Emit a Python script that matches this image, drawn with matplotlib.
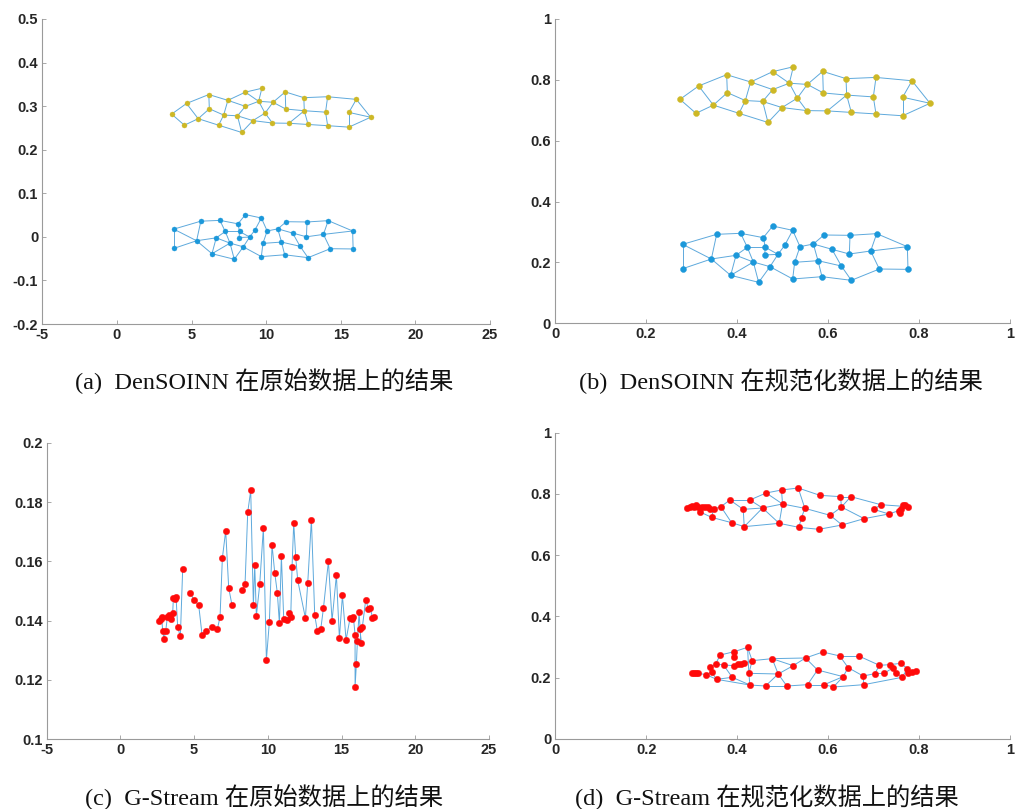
import numpy as np
import matplotlib
matplotlib.use("Agg")
import matplotlib.pyplot as plt
from matplotlib.collections import LineCollection

plt.rcParams['axes.unicode_minus'] = False

# ---------------- DenSOINN nodes (normalized coordinates) ----------------
yellow_x = [0.2747, 0.3099, 0.3158, 0.3480, 0.3773, 0.3788, 0.4044, 0.4183, 0.4300, 0.4564,
            0.4681, 0.4784, 0.4784, 0.4989, 0.5150, 0.5238, 0.5326, 0.5531, 0.5546, 0.5883,
            0.5897, 0.5985, 0.6396, 0.6410, 0.6513, 0.7055, 0.6996, 0.7055, 0.7846, 0.7641,
            0.7641, 0.8242]
yellow_y = [0.736, 0.690, 0.780, 0.717, 0.817, 0.758, 0.690, 0.732, 0.793, 0.729,
            0.660, 0.827, 0.768, 0.709, 0.789, 0.843, 0.740, 0.699, 0.785, 0.828,
            0.757, 0.698, 0.804, 0.750, 0.693, 0.808, 0.744, 0.688, 0.797, 0.743,
            0.682, 0.723]
yellow_edges = [(1, 2), (1, 3), (2, 4), (3, 4), (3, 5), (4, 6), (5, 6), (5, 9), (6, 8), (4, 7),
                (7, 8), (8, 9), (8, 10), (9, 13), (9, 12), (12, 16), (13, 15), (13, 10), (10, 11),
                (7, 11), (11, 14), (10, 14), (15, 16), (15, 17), (12, 15), (14, 17), (17, 18),
                (14, 18), (15, 19), (17, 19), (19, 20), (19, 21), (20, 21), (20, 23), (21, 24),
                (23, 24), (18, 22), (22, 24), (22, 25), (24, 25), (23, 26), (24, 27), (26, 27),
                (25, 28), (27, 28), (26, 29), (28, 31), (29, 30), (29, 32), (30, 32), (31, 32),
                (30, 31)]

blue_x = [0.2806, 0.2806, 0.3436, 0.3553, 0.3861, 0.3978, 0.4080, 0.4227, 0.4359, 0.4476,
          0.4579, 0.4623, 0.4608, 0.4725, 0.4784, 0.4901, 0.5048, 0.5224, 0.5385, 0.5267,
          0.5224, 0.5678, 0.5780, 0.5912, 0.6088, 0.5868, 0.6293, 0.6469, 0.6484, 0.6513,
          0.6938, 0.7070, 0.7128, 0.7744, 0.7758]
blue_y = [0.2595, 0.1795, 0.2113, 0.2924, 0.1576, 0.2234, 0.2957, 0.2497, 0.2014, 0.1346,
          0.2814, 0.2497, 0.2245, 0.1861, 0.3197, 0.2266, 0.2562, 0.3055, 0.2518, 0.2004,
          0.1456, 0.2606, 0.2058, 0.2902, 0.2431, 0.1532, 0.1883, 0.2277, 0.2891, 0.1412,
          0.2376, 0.2946, 0.1784, 0.2518, 0.1773]
blue_edges = [(1, 2), (1, 4), (1, 3), (2, 3), (3, 4), (3, 6), (3, 5), (4, 7), (7, 11), (7, 8),
              (6, 8), (6, 5), (5, 9), (5, 10), (9, 10), (8, 12), (11, 12), (11, 15), (12, 13),
              (8, 9), (13, 16), (12, 16), (9, 14), (14, 16), (14, 10), (14, 21), (15, 18),
              (18, 17), (17, 16), (18, 19), (19, 20), (20, 21), (20, 23), (19, 22), (22, 24),
              (22, 23), (22, 25), (23, 26), (21, 26), (23, 27), (25, 27), (25, 28), (24, 29),
              (29, 28), (27, 30), (26, 30), (28, 31), (29, 32), (32, 31), (31, 34), (32, 34),
              (31, 33), (30, 33), (33, 35), (34, 35), (6, 9)]

# range used for the min-max normalization of the raw data
raw_x_range = (-3.00, 21.27)
raw_y_range = (-0.126, 0.428)

# ---------------- G-Stream on raw data ----------------
gs_raw_x = [2.641, 2.732, 2.799, 2.867, 2.958, 3.071, 3.184, 3.297, 3.365, 3.455,
            3.546, 3.591, 3.704, 3.772, 3.885, 4.066, 4.224,
            4.722, 4.993, 5.310, 5.536, 5.785, 6.192, 6.576, 6.757, 6.915, 7.141, 7.345, 7.571,
            8.272, 8.453, 8.634, 8.838, 9.018, 9.109, 9.222, 9.448, 9.697, 9.901, 10.104,
            10.285, 10.466, 10.647, 10.783, 10.918, 11.077, 11.325, 11.461, 11.552, 11.642,
            11.755, 11.891, 12.026, 12.547, 12.705, 12.954, 13.180, 13.360, 13.587, 13.768,
            14.107, 14.356, 14.650, 14.853, 15.057, 15.305, 15.577, 15.735, 15.803, 15.916,
            15.916, 16.006, 16.074, 16.188, 16.323, 16.255, 16.414, 16.640, 16.821, 16.956,
            17.092, 17.205]
gs_raw_y = [0.1398, 0.1404, 0.1411, 0.1365, 0.1338, 0.1365, 0.1411, 0.1420, 0.1411, 0.1404,
            0.1425, 0.1476, 0.1474, 0.1481, 0.1378, 0.1347, 0.1575,
            0.1494, 0.1470, 0.1452, 0.1353, 0.1365, 0.1378, 0.1372, 0.1412, 0.1611, 0.1703,
            0.1510, 0.1452,
            0.1504, 0.1522, 0.1765, 0.1839, 0.1452, 0.1588, 0.1416, 0.1522, 0.1713, 0.1267,
            0.1397, 0.1655, 0.1562, 0.1492, 0.1391, 0.1618, 0.1406, 0.1403, 0.1425, 0.1411,
            0.1582, 0.1730, 0.1613, 0.1536, 0.1409, 0.1527, 0.1740, 0.1418, 0.1365, 0.1371,
            0.1441, 0.1600, 0.1400, 0.1554, 0.1341, 0.1485, 0.1335, 0.1409, 0.1404, 0.1411,
            0.1353, 0.1177, 0.1255, 0.1332, 0.1428, 0.1323, 0.1373, 0.1380, 0.1471, 0.1439,
            0.1444, 0.1409, 0.1412]
gs_raw_runs = [(0, 17), (17, 29), (29, 82)]

# ---------------- G-Stream on normalized data ----------------
gs_top_x = [0.2887, 0.2960, 0.3012, 0.3055, 0.3099, 0.3143, 0.3187, 0.3231, 0.3290, 0.3363,
            0.3393, 0.3481, 0.3437, 0.3642, 0.3840, 0.3876, 0.4133, 0.4155, 0.4280, 0.4558,
            0.4638, 0.4924, 0.4975, 0.4997, 0.5342, 0.5356, 0.5415, 0.5488, 0.5796, 0.5818,
            0.6045, 0.6272, 0.6294, 0.6308, 0.6499, 0.6792, 0.7004, 0.7158, 0.7334, 0.7554,
            0.7598, 0.7642, 0.7686, 0.7760, 0.7583]
gs_top_y = [0.7553, 0.7585, 0.7607, 0.7564, 0.7650, 0.7585, 0.7411, 0.7585, 0.7564, 0.7585,
            0.7509, 0.7509, 0.7237, 0.7585, 0.7803, 0.7063, 0.7498, 0.6933, 0.7803, 0.7542,
            0.8032, 0.7041, 0.8129, 0.7673, 0.8195, 0.6911, 0.7226, 0.7531, 0.6846, 0.7955,
            0.7302, 0.7912, 0.7574, 0.6987, 0.7912, 0.7194, 0.7498, 0.7650, 0.7346, 0.7455,
            0.7520, 0.7629, 0.7650, 0.7585, 0.7390]
gs_top_edges = [(1, 2), (2, 3), (3, 4), (4, 5), (5, 6), (6, 8), (8, 9), (9, 10), (10, 11),
                (11, 12), (6, 7), (7, 13), (12, 13), (12, 14), (13, 16), (14, 15), (14, 16),
                (15, 17), (15, 19), (17, 18), (16, 18), (17, 20), (19, 20), (18, 20), (19, 21),
                (21, 23), (21, 24), (20, 24), (20, 22), (24, 22), (18, 22), (23, 25), (23, 24),
                (25, 28), (25, 30), (24, 28), (28, 27), (27, 26), (22, 26), (26, 29), (28, 31),
                (29, 34), (30, 32), (31, 33), (33, 32), (33, 35), (31, 34), (34, 36), (35, 38),
                (33, 36), (36, 39), (37, 39), (37, 38), (38, 44), (39, 40), (40, 41), (41, 42),
                (42, 43), (43, 44), (40, 45), (32, 35)]

gs_bot_x = [0.3012, 0.3055, 0.3099, 0.3143, 0.3319, 0.3407, 0.3437, 0.3525, 0.3547, 0.3627,
            0.3700, 0.3891, 0.3935, 0.3935, 0.3935, 0.4023, 0.4081, 0.4155, 0.4228, 0.4257,
            0.4330, 0.4279, 0.4623, 0.4770, 0.4902, 0.5092, 0.5231, 0.5503, 0.5547, 0.5767,
            0.5884, 0.5913, 0.6118, 0.6257, 0.6330, 0.6440, 0.6675, 0.6770, 0.6785, 0.7026,
            0.7129, 0.7231, 0.7356, 0.7429, 0.7488, 0.7598, 0.7627, 0.7744, 0.7759, 0.7847,
            0.7935]
gs_bot_y = [0.2166, 0.2166, 0.2155, 0.2144, 0.2101, 0.2340, 0.2188, 0.2449, 0.1948, 0.2742,
            0.2416, 0.2014, 0.2851, 0.2667, 0.2394, 0.2438, 0.2449, 0.2471, 0.2993, 0.2144,
            0.2558, 0.1763, 0.1730, 0.2623, 0.2122, 0.1730, 0.2394, 0.2645, 0.1774, 0.2253,
            0.2840, 0.1774, 0.1698, 0.2710, 0.2036, 0.2329, 0.2710, 0.2057, 0.1774, 0.2133,
            0.2405, 0.2144, 0.2427, 0.2329, 0.2166, 0.2471, 0.2014, 0.2297, 0.2166, 0.2188,
            0.2231]
gs_bot_edges = [(1, 2), (2, 3), (3, 4), (4, 5), (5, 7), (5, 9), (7, 9), (6, 7), (6, 8), (8, 10),
                (8, 11), (9, 12), (9, 22), (10, 13), (13, 14), (13, 19), (19, 21), (19, 20),
                (11, 12), (11, 15), (15, 16), (16, 17), (17, 18), (18, 21), (12, 22), (20, 22),
                (21, 24), (20, 21), (20, 25), (22, 23), (23, 25), (23, 26), (25, 26), (24, 25),
                (24, 27), (24, 28), (27, 28), (25, 27), (28, 31), (28, 30), (30, 29), (29, 26),
                (29, 32), (30, 35), (31, 34), (34, 37), (34, 36), (36, 35), (35, 32), (33, 35),
                (32, 33), (33, 39), (36, 38), (37, 41), (38, 40), (39, 47), (40, 41), (41, 43),
                (43, 46), (44, 45), (45, 47), (47, 48), (46, 48), (48, 49), (49, 50), (50, 51),
                (42, 44), (40, 42), (38, 39)]

# ---------------- axis ticks and captions ----------------
raw_xticks = [-5, 0, 5, 10, 15, 20, 25]
raw_xticklabels = ['-5', '0', '5', '10', '15', '20', '25']
den_raw_yticks = [-0.2, -0.1, 0.0, 0.1, 0.2, 0.3, 0.4, 0.5]
den_raw_yticklabels = ['-0.2', '-0.1', '0', '0.1', '0.2', '0.3', '0.4', '0.5']
gs_raw_yticks = [0.10, 0.12, 0.14, 0.16, 0.18, 0.20]
gs_raw_yticklabels = ['0.1', '0.12', '0.14', '0.16', '0.18', '0.2']
norm_ticks = [0, 0.2, 0.4, 0.6, 0.8, 1.0]
norm_ticklabels = ['0', '0.2', '0.4', '0.6', '0.8', '1']
captions = ['(a)  DenSOINN 在原始数据上的结果',
            '(b)  DenSOINN 在规范化数据上的结果',
            '(c)  G-Stream 在原始数据上的结果',
            '(d)  G-Stream 在规范化数据上的结果']

EDGE_C = '#5ea9dc'
YEL_C = '#cdb826'
BLU_C = '#1b98da'
RED_C = '#ff0a0a'
TICK_FONT = dict(family='Liberation Sans', weight='bold', size=10.5)
CAP_FAMILY = ['Liberation Serif', 'Noto Sans CJK SC']


def style(ax, xlim, ylim, xt, xtl, yt, ytl):
    ax.set_xlim(*xlim)
    ax.set_ylim(*ylim)
    for s in ('top', 'right'):
        ax.spines[s].set_visible(False)
    for s in ('left', 'bottom'):
        ax.spines[s].set_color('#9a9a9a')
        ax.spines[s].set_linewidth(0.8)
    ax.set_xticks(xt)
    ax.set_xticklabels(xtl, **TICK_FONT)
    ax.set_yticks(yt)
    ax.set_yticklabels(ytl, **TICK_FONT)
    ax.tick_params(direction='in', length=3, width=0.6, color='#9a9a9a',
                   labelcolor='#262626', pad=3)


def draw_graph(ax, xs, ys, edges, node_color, ms, lw=0.7):
    xs = np.asarray(xs)
    ys = np.asarray(ys)
    segs = [[(xs[i - 1], ys[i - 1]), (xs[j - 1], ys[j - 1])] for i, j in edges]
    ax.add_collection(LineCollection(segs, colors=EDGE_C, linewidths=lw, zorder=2))
    ax.plot(xs, ys, 'o', ms=ms, mfc=node_color, mec=node_color, mew=0.3, zorder=3)


def to_raw(v, rng):
    return rng[0] + np.asarray(v) * (rng[1] - rng[0])


fig = plt.figure(figsize=(10.15, 8.09), dpi=100)
W, H = 1015, 809


def add_axes(left, right, top, bottom):
    return fig.add_axes([left / W, 1 - bottom / H, (right - left) / W, (bottom - top) / H])


ax_a = add_axes(42.3, 490, 19, 324)
ax_b = add_axes(555, 1010, 19, 323.3)
ax_c = add_axes(46.7, 489, 442.7, 739.3)
ax_d = add_axes(555.3, 1010, 432.7, 739)

# (a) DenSOINN, raw data
draw_graph(ax_a, to_raw(yellow_x, raw_x_range), to_raw(yellow_y, raw_y_range),
           yellow_edges, YEL_C, 3.6)
draw_graph(ax_a, to_raw(blue_x, raw_x_range), to_raw(blue_y, raw_y_range),
           blue_edges, BLU_C, 3.6)
style(ax_a, (-5, 25), (-0.2, 0.5), raw_xticks, raw_xticklabels,
      den_raw_yticks, den_raw_yticklabels)

# (b) DenSOINN, normalized data
draw_graph(ax_b, yellow_x, yellow_y, yellow_edges, YEL_C, 4.3)
draw_graph(ax_b, blue_x, blue_y, blue_edges, BLU_C, 4.3)
style(ax_b, (0, 1), (0, 1), norm_ticks, norm_ticklabels, norm_ticks, norm_ticklabels)

# (c) G-Stream, raw data
gx = np.asarray(gs_raw_x)
gy = np.asarray(gs_raw_y)
for a, b in gs_raw_runs:
    ax_c.plot(gx[a:b], gy[a:b], '-', color=EDGE_C, lw=0.7, zorder=2)
ax_c.plot(gx, gy, 'o', ms=4.6, mfc=RED_C, mec=RED_C, mew=0.3, zorder=3)
style(ax_c, (-5, 25), (0.1, 0.2), raw_xticks, raw_xticklabels,
      gs_raw_yticks, gs_raw_yticklabels)

# (d) G-Stream, normalized data
draw_graph(ax_d, gs_top_x, gs_top_y, gs_top_edges, RED_C, 4.6)
draw_graph(ax_d, gs_bot_x, gs_bot_y, gs_bot_edges, RED_C, 4.6)
style(ax_d, (0, 1), (0, 1), norm_ticks, norm_ticklabels, norm_ticks, norm_ticklabels)

cap_pos = [(264, 381), (781, 381), (264, 797), (767, 797)]
for (cx, cy), txt in zip(cap_pos, captions):
    fig.text(cx / W, 1 - cy / H, txt, ha='center', va='center',
             family=CAP_FAMILY, size=17.5, color='#111111')

fig.savefig('out.png', dpi=100)
